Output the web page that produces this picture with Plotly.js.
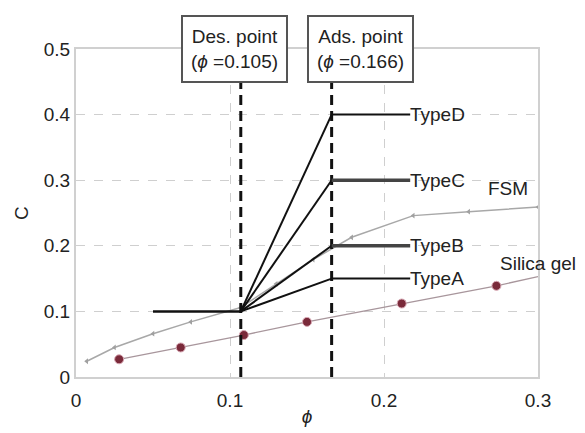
<!DOCTYPE html>
<html><head><meta charset="utf-8">
<script src="https://cdn.plot.ly/plotly-3.0.1.min.js"></script>
<style>html,body{margin:0;padding:0;background:#fff}#chart{width:585px;height:433px}</style>
</head><body><div id="chart"></div>
<script>
// FSM curve
const fsmPhi = [0.007, 0.025, 0.050, 0.0745, 0.107, 0.130, 0.154, 0.179, 0.219, 0.255, 0.300];
const fsmC   = [0.024, 0.045, 0.066, 0.084, 0.106, 0.142, 0.179, 0.213, 0.246, 0.252, 0.259];
// Silica gel
const silPhi = [0.028, 0.068, 0.109, 0.150, 0.2115, 0.273, 0.300];
const silC   = [0.027, 0.045, 0.064, 0.084, 0.112, 0.139, 0.153];
const silMarkPhi = [0.028, 0.068, 0.109, 0.150, 0.2115, 0.273];
const silMarkC   = [0.027, 0.045, 0.064, 0.084, 0.112, 0.139];
// Types
const typeNames = ['TypeA', 'TypeB', 'TypeC', 'TypeD'];
const typeC = [0.15, 0.20, 0.30, 0.40];
const typeColors = ['#111', '#444', '#444', '#111'];
const typeWidths = [2, 3.5, 3.5, 2];
const baseC = 0.10;
const baseStart = 0.05;
const desPhi = 0.107;
const adsPhi = 0.166;
const typeEnd = 0.217;
const desLabel = 'Des. point<br>(<i>ϕ</i> =0.105)';
const adsLabel = 'Ads. point<br>(<i>ϕ</i> =0.166)';
const xTicks = [0, 0.1, 0.2, 0.3];
const xTickText = ['0', '0.1', '0.2', '0.3'];
const yTicks = [0, 0.1, 0.2, 0.3, 0.4, 0.5];
const yTickText = ['0', '0.1', '0.2', '0.3', '0.4', '0.5'];

const font = 'Liberation Sans, Arial, sans-serif';
const traces = [];
traces.push({x: fsmPhi, y: fsmC, mode: 'lines+markers', line: {color: '#a8a8a8', width: 1.5},
  marker: {symbol: 'triangle-left', size: 5, color: '#a0a0a0'}, hoverinfo: 'none'});
traces.push({x: silPhi, y: silC, mode: 'lines', line: {color: '#a8969c', width: 1.3}, hoverinfo: 'none'});
traces.push({x: silMarkPhi, y: silMarkC, mode: 'markers',
  marker: {symbol: 'circle', size: 9, color: '#7a2a3a', line: {color: '#d8a8b4', width: 1}}, hoverinfo: 'none'});
// dashed vertical lines
traces.push({x: [desPhi, desPhi], y: [0, 0.5], mode: 'lines', line: {color: '#111', width: 3, dash: '10px,6px'}, hoverinfo: 'none'});
traces.push({x: [adsPhi, adsPhi], y: [0, 0.5], mode: 'lines', line: {color: '#111', width: 3, dash: '10px,6px'}, hoverinfo: 'none'});
// base line
traces.push({x: [baseStart, desPhi], y: [baseC, baseC], mode: 'lines', line: {color: '#111', width: 2.5}, hoverinfo: 'none'});
typeNames.forEach((n, i) => {
  traces.push({x: [desPhi, adsPhi], y: [baseC, typeC[i]], mode: 'lines', line: {color: '#111', width: 2}, hoverinfo: 'none'});
  traces.push({x: [adsPhi, typeEnd], y: [typeC[i], typeC[i]], mode: 'lines', line: {color: typeColors[i], width: typeWidths[i]}, hoverinfo: 'none'});
});

const lblFont = {family: font, size: 19, color: '#222'};
const annotations = typeNames.map((n, i) => ({
  x: typeEnd, y: typeC[i], xref: 'x', yref: 'y', text: n, showarrow: false,
  xanchor: 'left', yanchor: 'middle', xshift: -2, font: lblFont
}));
annotations.push({x: 0.2805, y: 0.288, xref: 'x', yref: 'y', text: 'FSM', showarrow: false,
  xanchor: 'center', yanchor: 'middle', font: lblFont});
annotations.push({x: 0.274, y: 0.1725, xref: 'x', yref: 'y', text: 'Silica gel', showarrow: false,
  xanchor: 'left', yanchor: 'middle', font: lblFont});
const boxFont = {family: font, size: 19, color: '#222'};
annotations.push({x: 0.1026, y: 0.5, xref: 'x', yref: 'y', text: desLabel, showarrow: false,
  xanchor: 'center', yanchor: 'middle', align: 'center', width: 103, height: 64,
  bgcolor: '#fff', bordercolor: '#555', borderwidth: 2, borderpad: 0, font: boxFont});
annotations.push({x: 0.1847, y: 0.5, xref: 'x', yref: 'y', text: adsLabel, showarrow: false,
  xanchor: 'center', yanchor: 'middle', align: 'center', width: 103, height: 64,
  bgcolor: '#fff', bordercolor: '#555', borderwidth: 2, borderpad: 0, font: boxFont});

const layout = {
  width: 585, height: 433,
  margin: {l: 76, r: 47, t: 49, b: 56},
  paper_bgcolor: '#fff', plot_bgcolor: '#fff',
  showlegend: false,
  font: {family: font, size: 19, color: '#222'},
  xaxis: {range: [0, 0.3], tickvals: xTicks, ticktext: xTickText, showgrid: true, gridcolor: '#cfcfcf',
    griddash: 'dash', gridwidth: 1, zeroline: false, showline: true, mirror: true, linecolor: '#d0d0d0', linewidth: 2,
    ticks: 'inside', ticklen: 4, tickcolor: '#d0d0d0', ticklabelstandoff: 5, automargin: false,
    title: {text: '<i>ϕ</i>', font: {family: font, size: 19, color: '#222'}, standoff: 0},
    tickfont: {family: font, size: 19, color: '#222'}},
  yaxis: {range: [0, 0.5], tickvals: yTicks, ticktext: yTickText, showgrid: true, gridcolor: '#cfcfcf',
    griddash: 'dash', gridwidth: 1, zeroline: false, showline: true, mirror: true, linecolor: '#d0d0d0', linewidth: 2,
    ticks: 'inside', ticklen: 4, tickcolor: '#d0d0d0', automargin: false,
    title: {text: 'C', font: {family: font, size: 19, color: '#222'}, standoff: 10},
    tickfont: {family: font, size: 19, color: '#222'}},
  annotations: annotations
};
Plotly.newPlot('chart', traces, layout, {displayModeBar: false, staticPlot: true});
</script></body></html>
